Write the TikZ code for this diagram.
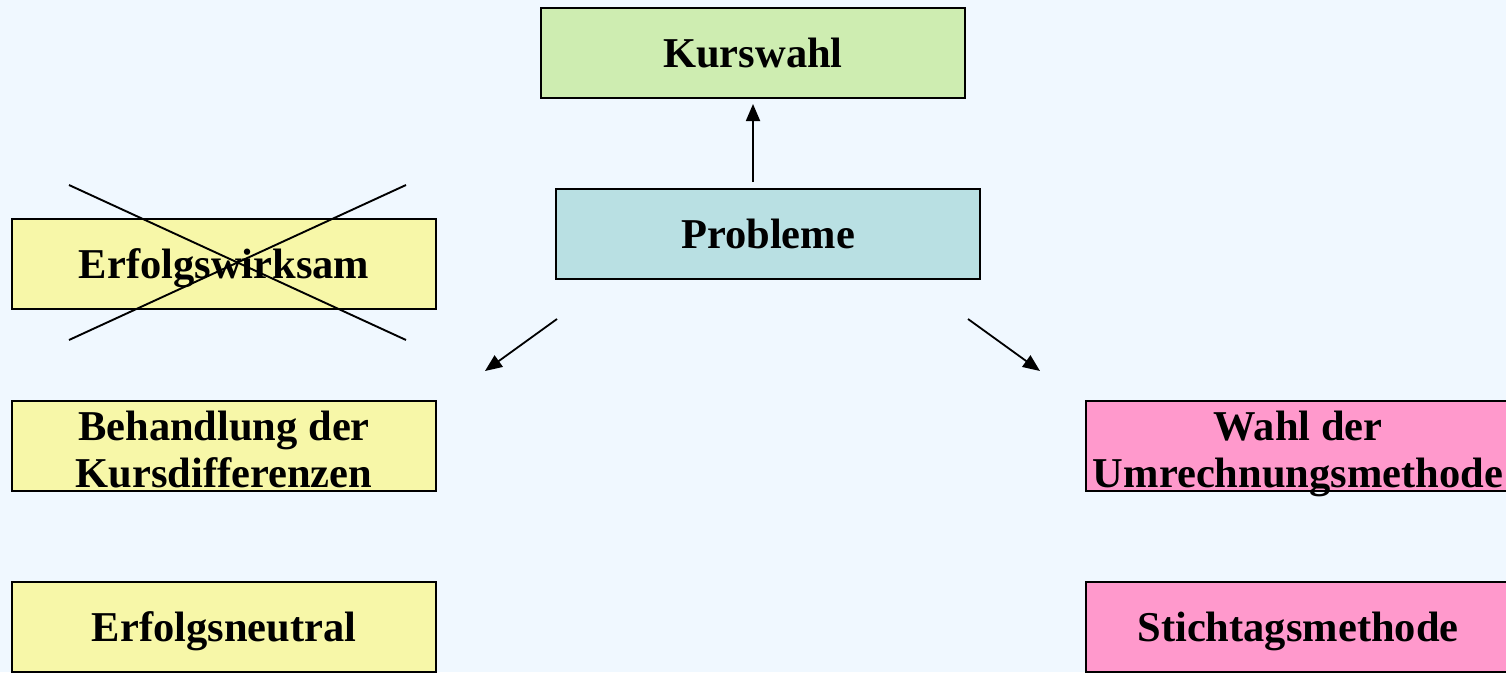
\documentclass[tikz,border=0pt]{standalone}
\usepackage{fontspec}
\setmainfont{Liberation Serif}
\usetikzlibrary{arrows.meta}
\definecolor{bgblue}{HTML}{F0F8FF}
\definecolor{greenbox}{HTML}{CEEDB1}
\definecolor{tealbox}{HTML}{B9E0E3}
\definecolor{yellowbox}{HTML}{F7F7A8}
\definecolor{pinkbox}{HTML}{FF99CC}
\tikzset{
  box/.style={draw=black, line width=1.8pt, minimum width=424pt, minimum height=90pt,
    inner sep=0pt, align=center, font=\fontsize{42.5}{47}\selectfont\bfseries,
    text height=28pt, text depth=0pt},
  twoline/.style={text height=82pt, text depth=0pt},
  link/.style={line width=1.8pt, -{Triangle[length=17pt,width=14pt]}},
  strike/.style={line width=1.9pt}
}
\begin{document}
\begin{tikzpicture}[x=1pt,y=-1pt]
  \fill[bgblue] (0,0) rectangle (1506,672);
  \useasboundingbox (0,0) rectangle (1506,672);
  \begin{scope}
    \clip (0,0) rectangle (1506,672);
    % top row
    \node[box, fill=greenbox] (kurs) at (753,53) {Kurswahl};
    \node[box, fill=tealbox] (prob) at (768,234) {Probleme};
    % left column
    \node[box, fill=yellowbox] (wirk) at (224,264) {Erfolgswirksam};
    \node[box, twoline, fill=yellowbox] (diff) at (224,446) {Behandlung der\\Kursdifferenzen};
    \node[box, fill=yellowbox] (neut) at (224,627) {Erfolgsneutral};
    % right column
    \node[box, twoline, fill=pinkbox] (wahl) at (1298,446) {Wahl der\\Umrechnungsmethode};
    \node[box, fill=pinkbox] (stich) at (1298,627) {Stichtagsmethode};
    % arrows
    \coordinate (upA) at (753,182);
    \coordinate (upB) at (753,104);
    \coordinate (lA) at (557,319);
    \coordinate (lB) at (485,371);
    \coordinate (rA) at (968,319);
    \coordinate (rB) at (1040,371);
    \draw[link] (upA) -- (upB);
    \draw[link] (lA) -- (lB);
    \draw[link] (rA) -- (rB);
    % crossed-out option
    \coordinate (x1) at (69,185);
    \coordinate (x2) at (406,340);
    \coordinate (x3) at (69,340);
    \coordinate (x4) at (406,185);
    \draw[strike] (x1) -- (x2);
    \draw[strike] (x3) -- (x4);
  \end{scope}
\end{tikzpicture}
\end{document}
